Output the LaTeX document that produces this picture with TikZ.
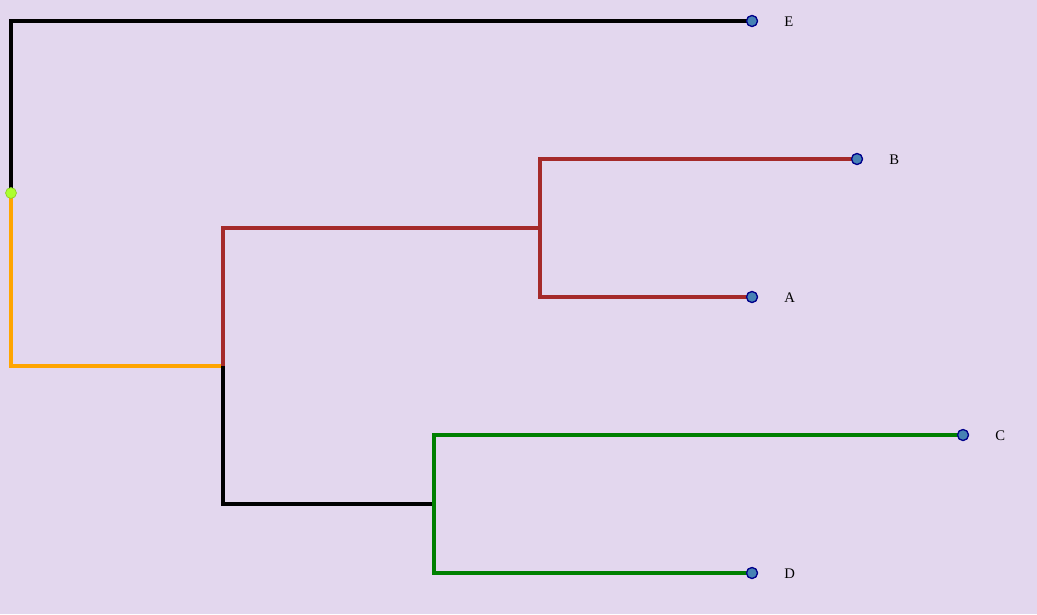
\documentclass[tikz,border=0pt]{standalone}
\usepackage{fontspec}
\setmainfont{Liberation Serif}
\usetikzlibrary{positioning}
\definecolor{bgcol}{HTML}{E3D7EE}
\definecolor{leafcol}{HTML}{4682B4}
\definecolor{leafline}{HTML}{00008B}
\definecolor{rootcol}{HTML}{ADFF2F}
\definecolor{brancha}{HTML}{A52A2A}
\definecolor{branchb}{HTML}{008000}
\definecolor{branchc}{HTML}{FFA500}
\tikzset{
  leaf/.style={circle, draw=leafline, fill=leafcol, line width=0.9pt, minimum size=8.2pt, inner sep=0pt},
  rootdot/.style={circle, draw=rootcol!80!black, fill=rootcol, line width=0.5pt, minimum size=8.2pt, inner sep=0pt},
  lab/.style={inner sep=0pt, yshift=-0.75pt, font=\fontsize{11}{13}\selectfont},
  edge/.style={line width=2.3pt}
}
\begin{document}
\begin{tikzpicture}[x=0.75pt, y=-0.75pt]
		\fill [bgcol] (0,0) rectangle (1037,614);
		\useasboundingbox (0,0) rectangle (1037,614);
		% inner nodes
		\coordinate (nAB) at (540,228);
		\coordinate (nABCD) at (223,366);
		\coordinate (nCD) at (434,504);
		% leaves
		\node [leaf] (E) at (752,21) {};
		\node [leaf] (B) at (857,159) {};
		\node [leaf] (A) at (752,297) {};
		\node [leaf] (C) at (963,435) {};
		\node [leaf] (D) at (752,573) {};
		\node [lab, right=24pt of E.center, anchor=west] (labE) {E};
		\node [lab, right=24pt of B.center, anchor=west] (labB) {B};
		\node [lab, right=24pt of A.center, anchor=west] (labA) {A};
		\node [lab, right=24pt of C.center, anchor=west] (labC) {C};
		\node [lab, right=24pt of D.center, anchor=west] (labD) {D};
		\coordinate (root) at (11,193);
		% branches
		\draw [edge, black] (root) |- (E.center);
		\draw [edge, branchc] (root) |- (nABCD);
		\draw [edge, brancha] (nABCD) |- (nAB);
		\draw [edge, brancha] (nAB) |- (B.center);
		\draw [edge, brancha] (nAB) |- (A.center);
		\draw [edge, black] (nABCD) |- (nCD);
		\draw [edge, branchb] (nCD) |- (C.center);
		\draw [edge, branchb] (nCD) |- (D.center);
		% dots on top
		\foreach \n in {E,B,A,C,D}
			\node [leaf] at (\n) {};
		\node [rootdot] (rootdot) at (root) {};
\end{tikzpicture}
\end{document}
